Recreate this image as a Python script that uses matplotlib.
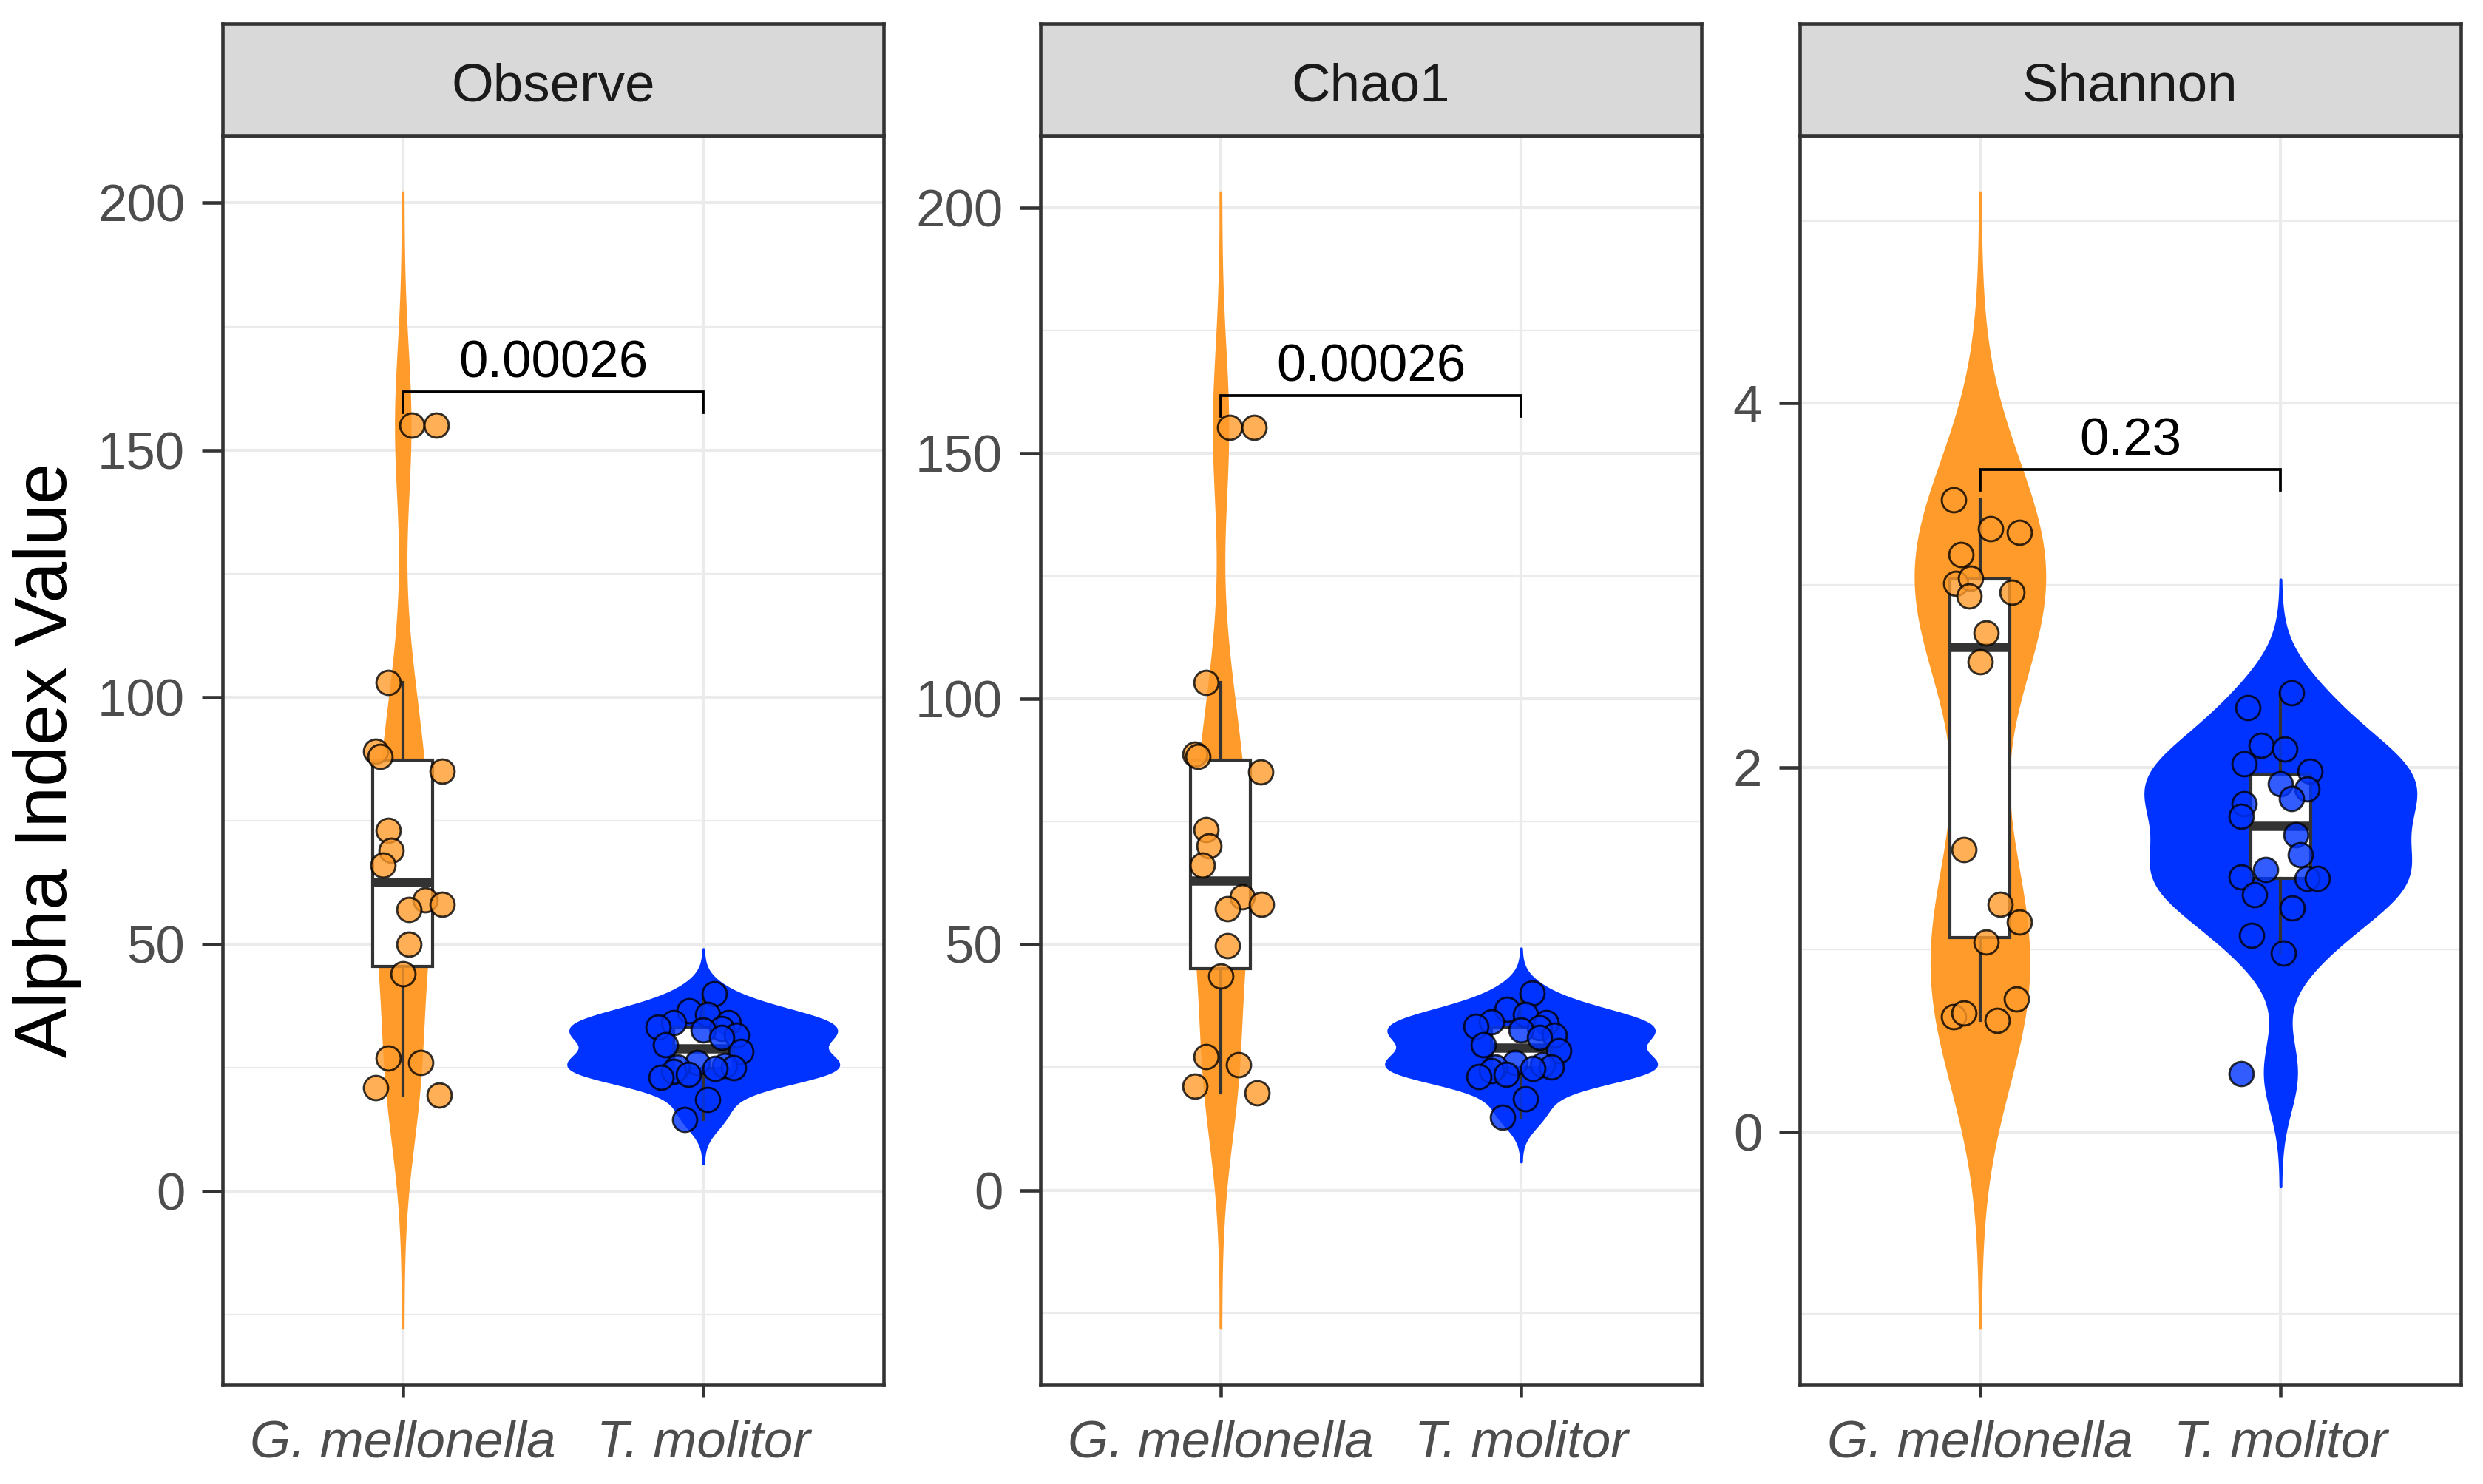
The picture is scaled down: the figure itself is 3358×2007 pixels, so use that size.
import numpy as np
import matplotlib
matplotlib.use("Agg")
import matplotlib.pyplot as plt
from matplotlib.ticker import MultipleLocator

plt.rcParams['font.family'] = ['Liberation Sans', 'DejaVu Sans']

# ---------------- data ----------------
groups = ["G. mellonella", "T. molitor"]
metrics = ["Observe", "Chao1", "Shannon"]
p_values = ["0.00026", "0.00026", "0.23"]

observe_gm = [155, 155, 103, 89, 88, 85, 73, 69, 66, 59, 58, 57, 50, 44, 27, 26, 21, 19.5]
observe_gm_jit = [0.03, 0.11, -0.05, -0.09, -0.075, 0.13, -0.05, -0.04, -0.065, 0.075,
                  0.13, 0.02, 0.02, 0.0, -0.05, 0.06, -0.09, 0.12]
observe_tm = [40.0, 36.6, 35.8, 34.1, 34.1, 33.3, 33.0, 32.6, 31.6, 31.1, 29.6,
              28.3, 26.0, 25.5, 25.1, 25.0, 24.8, 24.3, 23.6, 23.1, 18.6, 14.6]
observe_tm_jit = [0.037, -0.046, 0.015, -0.10, 0.083, -0.15, 0.06, 0.0, 0.11, 0.06, -0.127,
                  0.124, -0.02, 0.07, -0.087, 0.10, 0.04, -0.10, -0.05, -0.14, 0.015, -0.062]

chao1_gm = [155.3, 155.3, 103.3, 88.8, 88.3, 85.2, 73.4, 70.1, 66.2, 59.7, 58.2, 57.3,
            49.8, 43.6, 27.2, 25.5, 21.2, 19.8]
chao1_gm_jit = [0.031, 0.11, -0.048, -0.085, -0.076, 0.133, -0.05, -0.039, -0.062, 0.072,
                0.137, 0.023, 0.023, 0.0, -0.05, 0.06, -0.085, 0.122]
chao1_tm = [40.2, 36.8, 35.8, 34.2, 34.1, 33.3, 33.0, 32.6, 31.6, 31.1, 29.6,
            28.4, 26.0, 25.5, 25.1, 25.0, 24.8, 24.3, 23.6, 23.1, 18.6, 14.8]
chao1_tm_jit = observe_tm_jit

shannon_gm = [3.47, 3.31, 3.29, 3.17, 3.01, 3.04, 2.94, 2.96, 2.74, 2.58, 1.55, 1.25,
              1.15, 1.04, 0.73, 0.63, 0.65, 0.61]
shannon_gm_jit = [-0.088, 0.035, 0.13, -0.063, -0.08, -0.032, -0.036, 0.107, 0.02, 0.0,
                  -0.053, 0.068, 0.13, 0.02, 0.12, -0.088, -0.053, 0.058]
shannon_tm = [2.41, 2.33, 2.12, 2.10, 2.02, 1.98, 1.91, 1.88, 1.83, 1.80, 1.73, 1.63,
              1.52, 1.44, 1.40, 1.39, 1.39, 1.30, 1.23, 1.08, 0.98, 0.32]
shannon_tm_jit = [0.036, -0.109, -0.065, 0.015, -0.121, 0.099, 0.0, 0.087, 0.036, -0.121,
                  -0.132, 0.05, 0.066, -0.049, -0.132, 0.087, 0.123, -0.087, 0.038,
                  -0.097, 0.01, -0.13]

panel_data = [
    (observe_gm, observe_tm, observe_gm_jit, observe_tm_jit),
    (chao1_gm, chao1_tm, chao1_gm_jit, chao1_tm_jit),
    (shannon_gm, shannon_tm, shannon_gm_jit, shannon_tm_jit),
]

# annotation positions (bracket height, tip drop)
bracket_y = [161.8, 161.8, 3.635]
bracket_tip = [4.2, 4.2, 0.115]
major_step = [50, 50, 2]
minor_step = [25, 25, 1]

colors = ["#FF9B2B", "#0033FF"]

# ---------------- helpers ----------------
def nrd0(x):
    x = np.asarray(x, float)
    sd = np.std(x, ddof=1)
    q75, q25 = np.percentile(x, [75, 25])
    lo = min(sd, (q75 - q25) / 1.34)
    return 0.9 * lo * len(x) ** -0.2

def kde(x):
    x = np.asarray(x, float)
    bw = nrd0(x)
    grid = np.linspace(x.min() - 3 * bw, x.max() + 3 * bw, 512)
    d = np.exp(-0.5 * ((grid[:, None] - x[None, :]) / bw) ** 2).sum(axis=1)
    d /= (len(x) * bw * np.sqrt(2 * np.pi))
    return grid, d

# ---------------- figure ----------------
W, H = 3358, 2007
fig = plt.figure(figsize=(W / 300, H / 300), dpi=300)

lefts = [301, 1407, 2434]
pw = 894
ptop, pbot = 183, 1873
stop = 32

dark = "#333333"
for i, (gm, tm, gj, tj) in enumerate(panel_data):
    ax = fig.add_axes([lefts[i] / W, 1 - pbot / H, pw / W, (pbot - ptop) / H])
    sets = [gm, tm]
    jits = [gj, tj]
    dens = [kde(s) for s in sets]
    dmax = max(d.max() for _, d in dens)
    lo = min(g.min() for g, _ in dens)
    hi = max(g.max() for g, _ in dens)
    for k, (g, d) in enumerate(dens):
        hw = d / dmax * 0.45
        ax.fill_betweenx(g, k + 1 - hw, k + 1 + hw, color=colors[k], lw=0.8,
                         edgecolor=colors[k], zorder=2)
    for k, s in enumerate(sets):
        ax.boxplot([s], positions=[k + 1], widths=0.2, whis=1.5, showfliers=False,
                   showcaps=False, patch_artist=True, manage_ticks=False,
                   boxprops=dict(facecolor="white", edgecolor=dark, linewidth=1.0),
                   medianprops=dict(color=dark, linewidth=3.0, solid_capstyle="butt"),
                   whiskerprops=dict(color=dark, linewidth=1.0),
                   zorder=3)
    for k, s in enumerate(sets):
        xs = np.array(jits[k]) + k + 1
        ax.scatter(xs, s, s=62, color=colors[k], edgecolor="black", linewidth=0.7,
                   alpha=0.8, zorder=4)
    # bracket
    y = bracket_y[i]
    t = bracket_tip[i]
    ax.plot([1, 1, 2, 2], [y - t, y, y, y - t], color="black", lw=0.9, zorder=5,
            solid_joinstyle="miter")
    ax.annotate(p_values[i], xy=(1.5, y), xytext=(0, 1.0), textcoords="offset points",
                ha="center", va="bottom", fontsize=17, color="black", zorder=6)

    rng = hi - lo
    ax.set_ylim(lo - 0.05 * rng, hi + 0.05 * rng)
    ax.set_xlim(0.4, 2.6)
    ax.set_xticks([1, 2])
    ax.set_xticklabels(groups, style="italic")
    ax.yaxis.set_major_locator(MultipleLocator(major_step[i]))
    ax.yaxis.set_minor_locator(MultipleLocator(minor_step[i]))
    ax.set_axisbelow(True)
    ax.grid(which="major", color="#EBEBEB", lw=1.0, zorder=0)
    ax.grid(which="minor", axis="y", color="#EBEBEB", lw=0.55, zorder=0)
    ax.tick_params(axis="y", which="major", length=6.7, width=1.1, color=dark, pad=5.5,
                   labelsize=17, labelcolor="#4D4D4D")
    ax.tick_params(axis="y", which="minor", length=0)
    ax.tick_params(axis="x", which="major", length=4.1, width=1.1, color=dark, pad=7,
                   labelsize=17, labelcolor="#4D4D4D")
    for sp in ax.spines.values():
        sp.set_color(dark)
        sp.set_linewidth(1.1)

    # strip
    sax = fig.add_axes([lefts[i] / W, 1 - ptop / H, pw / W, (ptop - stop) / H])
    sax.set_facecolor("#D9D9D9")
    sax.set_xticks([])
    sax.set_yticks([])
    for sp in sax.spines.values():
        sp.set_color(dark)
        sp.set_linewidth(1.1)
    sax.text(0.5, 0.43, metrics[i], ha="center", va="center", fontsize=17.5,
             color="#1A1A1A", transform=sax.transAxes)

fig.text(64 / W, 1 - 1028 / H, "Alpha Index Value", rotation=90, ha="center",
         va="center", fontsize=24, color="black")

fig.savefig("out.png", dpi=300, facecolor="white")
